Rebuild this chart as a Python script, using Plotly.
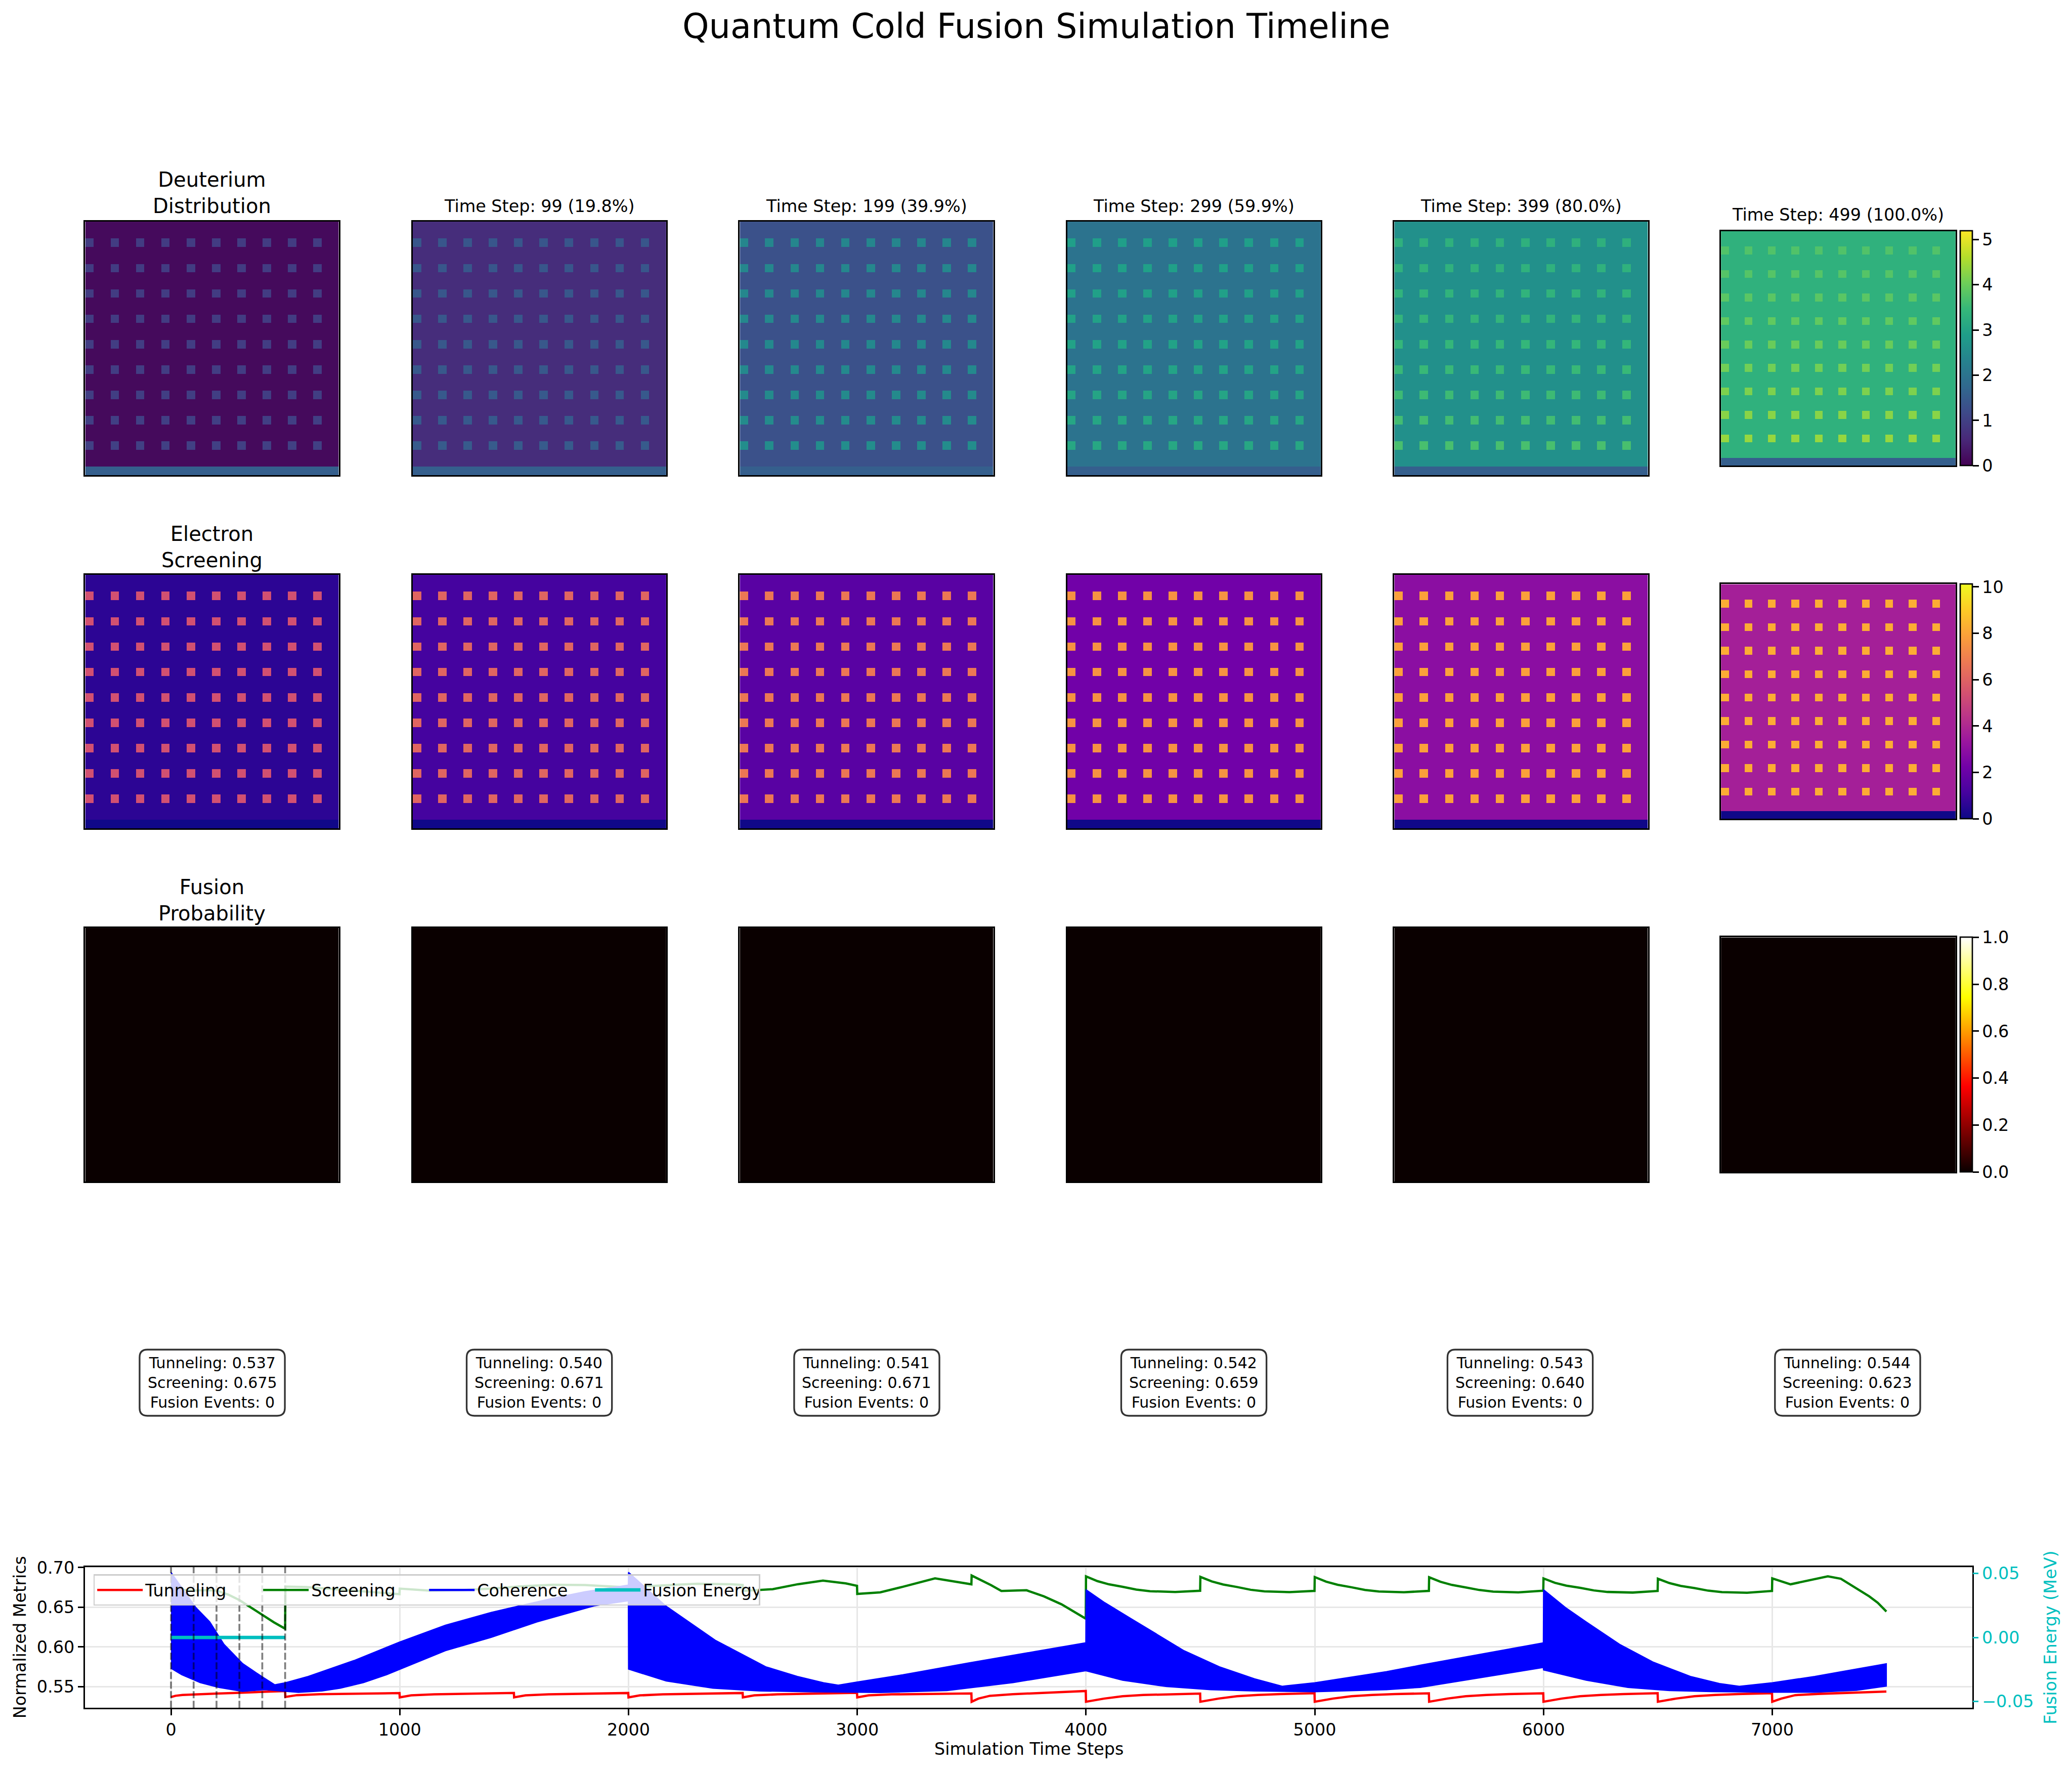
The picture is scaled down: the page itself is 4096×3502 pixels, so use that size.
import numpy as np
import plotly.graph_objects as go

# ---------------- reference geometry helpers ----------------
RW, RH = 5106, 4365          # reference canvas
W, H = 4096, 3502            # output canvas
S = W / RW                   # 0.802


def fx(x):
    return x / RW


def fy(y):
    return 1 - y / RH


# ---------------- data ----------------
time_steps = [0, 99, 199, 299, 399, 499]
step_titles = ["Time Step: 99 (19.8%)", "Time Step: 199 (39.9%)", "Time Step: 299 (59.9%)",
               "Time Step: 399 (80.0%)", "Time Step: 499 (100.0%)"]
row_titles = ["Deuterium<br>Distribution", "Electron<br>Screening", "Fusion<br>Probability"]

# box metrics at the snapshot steps
box_tunneling = [0.537, 0.540, 0.541, 0.542, 0.543, 0.544]
box_screening = [0.675, 0.671, 0.671, 0.659, 0.640, 0.623]
box_events = [0, 0, 0, 0, 0, 0]

# lattice maps (30 x 30): background level, lattice-site levels per site row, bottom electrode band
deut_bg = [0.13, 0.67, 1.30, 1.97, 2.60, 3.32]
deut_band = [1.56, 1.56, 1.56, 1.56, 1.56, 1.56]
deut_sites = [
    [0.92, 0.92, 0.93, 0.93, 0.94, 0.95, 0.96, 0.97, 0.99],
    [1.40, 1.40, 1.41, 1.42, 1.43, 1.44, 1.45, 1.46, 1.48],
    [2.38, 2.40, 2.41, 2.42, 2.44, 2.46, 2.48, 2.50, 2.53],
    [2.90, 2.92, 2.93, 2.95, 2.97, 3.00, 3.03, 3.06, 3.10],
    [3.30, 3.33, 3.36, 3.40, 3.44, 3.49, 3.54, 3.59, 3.65],
    [3.74, 3.78, 3.83, 3.90, 3.98, 4.06, 4.16, 4.26, 4.36],
]
scr_bg = [0.61, 1.11, 1.62, 2.23, 2.93, 3.64]
scr_band = [0.05, 0.05, 0.05, 0.05, 0.05, 0.05]
scr_sites = [
    [5.36] * 9,
    [6.07] * 9,
    [6.68] * 9,
    [7.49] * 9,
    [7.89] * 9,
    [8.20] * 9,
]
prob_bg = [0.0, 0.0, 0.0, 0.0, 0.0, 0.0]
prob_band = [0.0, 0.0, 0.0, 0.0, 0.0, 0.0]
prob_sites = [[0.0] * 9 for _ in range(6)]

deut_max, scr_max, prob_max = 5.19, 10.12, 1.0

# timeline series
tun_x = [0, 20, 50, 99, 199, 299, 399, 499,
         500, 550, 650, 999,
         1000, 1050, 1150, 1499,
         1500, 1550, 1650, 1999,
         2000, 2050, 2150, 2499,
         2500, 2550, 2650, 2999,
         3000, 3050, 3150, 3499,
         3500, 3530, 3580, 3680, 3999,
         4000, 4080, 4160, 4250, 4350, 4499,
         4500, 4580, 4660, 4750, 4850, 4999,
         5000, 5080, 5160, 5250, 5350, 5499,
         5500, 5580, 5660, 5750, 5850, 5999,
         6000, 6080, 6160, 6250, 6350, 6499,
         6500, 6580, 6660, 6750, 6850, 6999,
         7000, 7040, 7100, 7200, 7499]
tun_y = [0.5369, 0.5385, 0.5395, 0.5402, 0.5413, 0.5423, 0.5434, 0.5445,
         0.5370, 0.5393, 0.5405, 0.5419,
         0.5365, 0.5390, 0.5403, 0.5421,
         0.5365, 0.5390, 0.5403, 0.5420,
         0.5365, 0.5390, 0.5403, 0.5420,
         0.5365, 0.5390, 0.5403, 0.5422,
         0.5365, 0.5390, 0.5403, 0.5414,
         0.5310, 0.5350, 0.5385, 0.5405, 0.5445,
         0.5310, 0.5350, 0.5379, 0.5395, 0.5405, 0.5413,
         0.5310, 0.5350, 0.5379, 0.5396, 0.5407, 0.5417,
         0.5310, 0.5350, 0.5379, 0.5396, 0.5407, 0.5416,
         0.5310, 0.5350, 0.5379, 0.5396, 0.5407, 0.5416,
         0.5310, 0.5350, 0.5379, 0.5396, 0.5407, 0.5417,
         0.5310, 0.5350, 0.5379, 0.5396, 0.5407, 0.5417,
         0.5310, 0.5350, 0.5393, 0.5409, 0.5439]

scr_x = [0, 50, 99, 150, 199, 250, 299, 350, 399, 450, 499,
         500, 590, 720, 860, 999,
         1000, 1130, 1270, 1400, 1540, 1670, 1810, 1950, 1999,
         2000, 2150, 2300, 2450, 2499,
         2500, 2630, 2740, 2850, 2950, 2999,
         3000, 3100, 3200, 3340, 3499,
         3500, 3585, 3630, 3700, 3740, 3816, 3893, 3999,
         4000, 4050, 4100, 4160, 4220, 4280, 4390, 4499,
         4500, 4550, 4600, 4660, 4720, 4780, 4890, 4999,
         5000, 5050, 5100, 5160, 5220, 5280, 5390, 5499,
         5500, 5550, 5600, 5660, 5720, 5780, 5890, 5999,
         6000, 6050, 6100, 6160, 6220, 6280, 6390, 6499,
         6500, 6550, 6600, 6660, 6720, 6780, 6890, 6999,
         7000, 7080, 7150, 7243, 7300, 7370, 7424, 7461, 7499]
scr_y = [0.675, 0.672, 0.671, 0.6715, 0.671, 0.666, 0.659, 0.6495, 0.640, 0.631, 0.623,
         0.676, 0.6755, 0.6725, 0.6695, 0.6665,
         0.6735, 0.6710, 0.6716, 0.6735, 0.6766, 0.6783, 0.6780, 0.6756, 0.6750,
         0.6750, 0.6775, 0.6795, 0.6790, 0.6780,
         0.6705, 0.6727, 0.6790, 0.6835, 0.6800, 0.6770,
         0.6668, 0.6688, 0.6758, 0.6864, 0.6789,
         0.6900, 0.6778, 0.6705, 0.6712, 0.6714, 0.6637, 0.6537, 0.6356,
         0.6889, 0.6829, 0.6789, 0.6758, 0.6722, 0.6702, 0.6692, 0.6708,
         0.6883, 0.6825, 0.6786, 0.6755, 0.6720, 0.6700, 0.6690, 0.6706,
         0.6880, 0.6822, 0.6783, 0.6752, 0.6718, 0.6698, 0.6689, 0.6706,
         0.6878, 0.6820, 0.6781, 0.6750, 0.6717, 0.6697, 0.6688, 0.6708,
         0.6863, 0.6808, 0.6772, 0.6745, 0.6712, 0.6693, 0.6685, 0.6705,
         0.6859, 0.6805, 0.6769, 0.6742, 0.6709, 0.6690, 0.6683, 0.6705,
         0.6863, 0.6789, 0.6830, 0.6889, 0.6859, 0.6738, 0.6637, 0.6557, 0.6446]

# coherence oscillation envelope (upper and lower edges of the dense band)
coh_up_x = [0, 108, 170, 232, 314, 396, 454, 500, 600, 800, 1000, 1200, 1400, 1510, 1674, 1810, 1999,
            2000, 2162, 2379, 2600, 2738, 2853, 2917, 3000, 3199, 3488, 3777, 3999,
            4000, 4083, 4198, 4314, 4429, 4583, 4737, 4858, 5000, 5314, 5461, 5999,
            6000, 6096, 6187, 6333, 6478, 6642, 6769, 6856, 7000, 7186, 7499]
coh_up_y = [0.694, 0.650, 0.6315, 0.6033, 0.579, 0.563, 0.5524, 0.555, 0.563, 0.583, 0.6063, 0.6275,
            0.6436, 0.6509, 0.6618, 0.6697, 0.678,
            0.694, 0.652, 0.6086, 0.5751, 0.563, 0.555, 0.552, 0.556, 0.565, 0.580, 0.5943, 0.6053,
            0.6722, 0.6557, 0.6356, 0.6154, 0.5953, 0.5751, 0.560, 0.5506, 0.555, 0.569, 0.5771, 0.6053,
            0.6722, 0.6497, 0.6315, 0.6033, 0.5812, 0.563, 0.554, 0.5506, 0.555, 0.563, 0.579]
coh_lo_x = [0, 47, 128, 209, 311, 413, 500, 557, 660, 740, 841, 943, 1000, 1200, 1400, 1600, 1850, 1999,
            2000, 2165, 2369, 2573, 2814, 3103, 3392, 3681, 3999,
            4000, 4160, 4353, 4545, 4737, 5000, 5314, 5461, 5999,
            6000, 6187, 6369, 6551, 6733, 7000, 7186, 7368, 7499]
coh_lo_y = [0.573, 0.565, 0.555, 0.549, 0.544, 0.546, 0.544, 0.5428, 0.5445, 0.548, 0.555, 0.565, 0.572,
            0.5953, 0.612, 0.6315, 0.6517, 0.658,
            0.572, 0.557, 0.548, 0.5445, 0.5433, 0.5425, 0.545, 0.555, 0.570,
            0.570, 0.558, 0.550, 0.546, 0.5445, 0.5435, 0.546, 0.549, 0.574,
            0.571, 0.558, 0.549, 0.545, 0.5437, 0.5429, 0.5429, 0.5453, 0.5506]

fusion_x = [0, 99, 199, 299, 399, 499]
fusion_y = [0.0, 0.0, 0.0, 0.0, 0.0, 0.0]

x_ticks = [0, 1000, 2000, 3000, 4000, 5000, 6000, 7000]
y_ticks = [0.55, 0.60, 0.65, 0.70]
y2_ticks = [-0.05, 0.00, 0.05]

# ---------------- style ----------------
FONT = "DejaVu Sans"
PT = 300 / 72 * S              # one point in output pixels
LW = 0.8 * PT
TICKLEN = 3.5 * PT
FS10 = 10 * PT
FS12 = 12 * PT
FS9 = 9 * PT
FS20 = 20 * PT

hot_scale = [[0.0, "rgb(10,0,0)"], [0.365, "rgb(255,0,0)"], [0.746, "rgb(255,255,0)"], [1.0, "rgb(255,255,255)"]]

N = 30
site_rows = list(range(2, 27, 3))
site_cols = list(range(0, 28, 3))


def lattice(bg, sites, band):
    z = np.full((N, N), bg, dtype=float)
    for r, v in zip(site_rows, sites):
        z[r, site_cols] = v
    z[N - 1, :] = band
    return z


fig = go.Figure()
layout = {}

col_left = [210, 1017, 1823, 2630, 3436]
panel_w = 625
row_top = [546, 1416, 2286]
last_left, last_w, last_off = 4241, 578, 23
cbar_left, cbar_w = 4831, 30

maps = [
    (deut_bg, deut_sites, deut_band, "Viridis", deut_max, [0, 1, 2, 3, 4, 5], None),
    (scr_bg, scr_sites, scr_band, "Plasma", scr_max, [0, 2, 4, 6, 8, 10], None),
    (prob_bg, prob_sites, prob_band, hot_scale, prob_max, [0, 0.2, 0.4, 0.6, 0.8, 1.0], ".1f"),
]

k = 0
for r, (bgs, sites, bands, cscale, zmax, cticks, cfmt) in enumerate(maps):
    for c in range(6):
        k += 1
        if c < 5:
            x0, x1 = col_left[c], col_left[c] + panel_w
            y0, y1 = row_top[r], row_top[r] + panel_w
        else:
            x0, x1 = last_left, last_left + last_w
            y0, y1 = row_top[r] + last_off, row_top[r] + last_off + last_w
        z = lattice(bgs[c], sites[c], bands[c])
        tr = dict(z=z, colorscale=cscale, zmin=0, zmax=zmax, zsmooth=False,
                  xaxis=f"x{k}", yaxis=f"y{k}", showscale=(c == 5), hoverinfo="skip")
        if c == 5:
            cb = dict(x=fx(cbar_left), xanchor="left", y=fy((y0 + y1) / 2), yanchor="middle",
                      len=(y1 - y0) / RH, lenmode="fraction", thickness=cbar_w * S, thicknessmode="pixels",
                      xpad=0, ypad=0, outlinewidth=LW, outlinecolor="black",
                      ticks="outside", ticklen=TICKLEN, tickwidth=LW, tickcolor="black",
                      tickvals=cticks, tickfont=dict(size=FS10, family=FONT, color="black"))
            if cfmt:
                cb["tickformat"] = cfmt
            tr["colorbar"] = cb
        fig.add_trace(go.Heatmap(**tr))
        layout[f"xaxis{k}"] = dict(domain=[fx(x0), fx(x1)], anchor=f"y{k}", range=[-0.5, N - 0.5],
                                   showticklabels=False, ticks="", showgrid=False, zeroline=False,
                                   automargin=False,
                                   showline=True, mirror=True, linecolor="black", linewidth=LW)
        layout[f"yaxis{k}"] = dict(domain=[fy(y1), fy(y0)], anchor=f"x{k}", range=[N - 0.5, -0.5],
                                   showticklabels=False, ticks="", showgrid=False, zeroline=False,
                                   automargin=False,
                                   showline=True, mirror=True, linecolor="black", linewidth=LW)

# ---------------- timeline ----------------
XA, YA, YB = "x19", "y19", "y20"
ax_l, ax_r, ax_t, ax_b = 210, 4860, 3860, 4207
line_w = 1.35 * PT

fig.add_trace(go.Scatter(x=tun_x, y=tun_y, mode="lines", name="Tunneling",
                         line=dict(color="#ff0000", width=line_w), xaxis=XA, yaxis=YA))
fig.add_trace(go.Scatter(x=scr_x, y=scr_y, mode="lines", name="Screening",
                         line=dict(color="#008000", width=line_w), xaxis=XA, yaxis=YA))
poly_x = coh_up_x + coh_lo_x[::-1]
poly_y = coh_up_y + coh_lo_y[::-1]
fig.add_trace(go.Scatter(x=poly_x, y=poly_y, mode="lines", fill="toself", fillcolor="#0000ff",
                         line=dict(color="#0000ff", width=2), name="Coherence", showlegend=False,
                         xaxis=XA, yaxis=YA))
fig.add_trace(go.Scatter(x=[None], y=[None], mode="lines", name="Coherence",
                         line=dict(color="#0000ff", width=line_w), xaxis=XA, yaxis=YA))
fig.add_trace(go.Scatter(x=fusion_x, y=fusion_y, mode="lines", name="Fusion Energy",
                         line=dict(color="#00bfbf", width=2 * PT), xaxis=XA, yaxis=YB))

layout["xaxis19"] = dict(domain=[fx(ax_l), fx(ax_r)], anchor=YA, range=[-375, 7874], automargin=False,
                         tickvals=x_ticks, ticks="outside", ticklen=TICKLEN, tickwidth=LW, tickcolor="black",
                         tickfont=dict(size=FS10, family=FONT, color="black"),
                         showgrid=True, gridcolor="#e7e7e7", gridwidth=LW, zeroline=False,
                         showline=True, mirror=True, linecolor="black", linewidth=LW)
layout["yaxis19"] = dict(domain=[fy(ax_b), fy(ax_t)], anchor=XA, range=[0.5233, 0.7007], automargin=False,
                         tickvals=y_ticks, tickformat=".2f", ticks="outside", ticklen=TICKLEN, tickwidth=LW,
                         tickcolor="black", tickfont=dict(size=FS10, family=FONT, color="black"),
                         showgrid=True, gridcolor="#e7e7e7", gridwidth=LW, zeroline=False,
                         showline=True, mirror=True, linecolor="black", linewidth=LW)
layout["yaxis20"] = dict(overlaying=YA, anchor=XA, side="right", range=[-0.055, 0.055], automargin=False,
                         tickvals=y2_ticks, tickformat=".2f", ticks="outside", ticklen=TICKLEN, tickwidth=LW,
                         tickcolor="#00bfbf", tickfont=dict(size=FS10, family=FONT, color="#00bfbf"),
                         showgrid=False, zeroline=False, showline=False)

shapes = []
for t in time_steps:
    shapes.append(dict(type="line", xref=XA, yref="y19 domain", x0=t, x1=t, y0=0, y1=1,
                       line=dict(color="rgba(0,0,0,0.5)", width=1.1 * PT, dash="14px,5px"),
                       layer="above"))

# rounded info boxes (matplotlib round bbox look)
box_cx = [523, 1329, 2136, 2942, 3746, 4553]
box_cy, box_w, box_h, box_r = 3406, 358, 163, 19


def rounded_path(cx, cy, w, h, r):
    x0, x1 = cx - w / 2, cx + w / 2
    y0, y1 = cy - h / 2, cy + h / 2
    P = lambda x, y: f"{fx(x):.6f},{fy(y):.6f}"
    return (f"M {P(x0 + r, y0)} L {P(x1 - r, y0)} Q {P(x1, y0)} {P(x1, y0 + r)} "
            f"L {P(x1, y1 - r)} Q {P(x1, y1)} {P(x1 - r, y1)} L {P(x0 + r, y1)} "
            f"Q {P(x0, y1)} {P(x0, y1 - r)} L {P(x0, y0 + r)} Q {P(x0, y0)} {P(x0 + r, y0)} Z")


for cx in box_cx:
    shapes.append(dict(type="path", xref="paper", yref="paper", path=rounded_path(cx, box_cy, box_w, box_h, box_r),
                       fillcolor="rgba(255,255,255,0.8)", line=dict(color="rgba(0,0,0,0.8)", width=1.0 * PT),
                       layer="above"))

# ---------------- annotations ----------------
ann = []
ann.append(dict(text="Quantum Cold Fusion Simulation Timeline", x=0.5, y=fy(65), xref="paper", yref="paper",
                showarrow=False, xanchor="center", yanchor="middle", font=dict(size=FS20, family=FONT, color="black")))
row_title_y = [475.5, 1348, 2217.5]
for r in range(3):
    ann.append(dict(text=row_titles[r], x=fx(col_left[0] + panel_w / 2), y=fy(row_title_y[r]),
                    xref="paper", yref="paper", showarrow=False, xanchor="center", yanchor="middle",
                    font=dict(size=FS12, family=FONT, color="black")))
for c in range(1, 6):
    if c < 5:
        cx, cy = col_left[c] + panel_w / 2, 508
    else:
        cx, cy = last_left + last_w / 2, 529
    ann.append(dict(text=step_titles[c - 1], x=fx(cx), y=fy(cy), xref="paper", yref="paper",
                    showarrow=False, xanchor="center", yanchor="middle",
                    font=dict(size=FS10, family=FONT, color="black")))
for c in range(6):
    txt = (f"Tunneling: {box_tunneling[c]:.3f}<br>Screening: {box_screening[c]:.3f}"
           f"<br>Fusion Events: {box_events[c]}")
    ann.append(dict(text=txt, x=fx(box_cx[c]), y=fy(box_cy), xref="paper", yref="paper", showarrow=False,
                    xanchor="center", yanchor="middle", align="center", valign="middle",
                    font=dict(size=FS9, family=FONT, color="black")))
ann.append(dict(text="Normalized Metrics", x=fx(49), y=fy((ax_t + ax_b) / 2), xref="paper", yref="paper",
                showarrow=False, textangle=-90, xanchor="center", yanchor="middle",
                font=dict(size=FS10, family=FONT, color="black")))
ann.append(dict(text="Fusion Energy (MeV)", x=fx(5052), y=fy((ax_t + ax_b) / 2), xref="paper", yref="paper",
                showarrow=False, textangle=-90, xanchor="center", yanchor="middle",
                font=dict(size=FS10, family=FONT, color="#00bfbf")))
ann.append(dict(text="Simulation Time Steps", x=fx((ax_l + ax_r) / 2), y=fy(4308), xref="paper", yref="paper",
                showarrow=False, xanchor="center", yanchor="middle",
                font=dict(size=FS10, family=FONT, color="black")))

layout.update(dict(
    width=W, height=H, autosize=False,
    margin=dict(l=0, r=0, t=0, b=0, pad=0, autoexpand=False),
    paper_bgcolor="white", plot_bgcolor="white",
    font=dict(family=FONT, size=FS10, color="black"),
    showlegend=True,
    legend=dict(x=fx(230), y=fy(3878), xanchor="left", yanchor="top", orientation="h",
                bgcolor="rgba(255,255,255,0.8)", bordercolor="#cccccc", borderwidth=LW,
                font=dict(size=FS10, family=FONT, color="black"),
                entrywidth=223, entrywidthmode="pixels", itemwidth=90, tracegroupgap=0),
    shapes=shapes,
    annotations=ann,
))
fig.update_layout(**layout)
fig.write_html("out.html")
